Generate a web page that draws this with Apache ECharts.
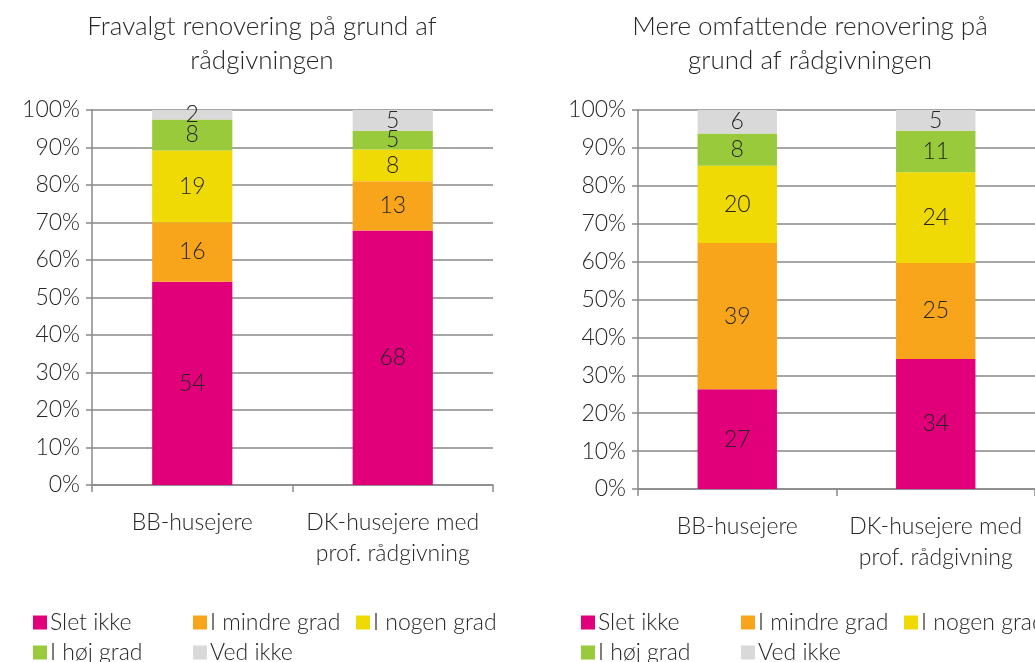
<!DOCTYPE html>
<html><head><meta charset="utf-8">
<script src="https://cdn.jsdelivr.net/npm/echarts@6/dist/echarts.min.js"></script>
<style>html,body{margin:0;padding:0;background:#fff}#c{width:1035px;height:662px}</style>
</head><body><div id="c"></div>
<script>
const categories = ['BB-husejere', 'DK-husejere med\nprof. rådgivning'];
const seriesNames = ['Slet ikke', 'I mindre grad', 'I nogen grad', 'I høj grad', 'Ved ikke'];
const titleLeft = 'Fravalgt renovering på grund af\nrådgivningen';
const titleRight = 'Mere omfattende renovering på\ngrund af rådgivningen';
// bar shares (%), per series: [BB, DK]
const leftSletIkke = [54.2, 67.9];
const leftMindre = [15.9, 13.1];
const leftNogen = [19.1, 8.5];
const leftHoej = [8.3, 5.0];
const leftVedIkke = [2.5, 5.5];
const rightSletIkke = [26.3, 34.3];
const rightMindre = [38.6, 25.3];
const rightNogen = [20.4, 24.0];
const rightHoej = [8.5, 10.9];
const rightVedIkke = [6.2, 5.5];
// printed data labels, per series: [BB, DK]
const leftLabels = [[54, 68], [16, 13], [19, 8], [8, 5], [2, 5]];
const rightLabels = [[27, 34], [39, 25], [20, 24], [8, 11], [6, 5]];
const yTicks = [0, 10, 20, 30, 40, 50, 60, 70, 80, 90, 100];

const colors = ['#E2007A', '#F8A51B', '#F0DA05', '#99CA3B', '#D9D9D9'];
const FONT = 'Lato';
const FW = 300;
const FS = 23;
const TXT = '#262626';

const leftData = [leftSletIkke, leftMindre, leftNogen, leftHoej, leftVedIkke];
const rightData = [rightSletIkke, rightMindre, rightNogen, rightHoej, rightVedIkke];

function makeSeries(d, labels, idx) {
  return d.map((arr, k) => ({
    name: seriesNames[k], type: 'bar', stack: 's' + idx,
    xAxisIndex: idx, yAxisIndex: idx, barWidth: '40%',
    itemStyle: { color: colors[k] },
    label: { show: true, position: 'inside', color: TXT, fontFamily: FONT, fontWeight: FW, fontSize: FS,
      formatter: p => String(labels[k][p.dataIndex]) },
    data: arr
  }));
}

const axisLineStyle = { color: '#898989', width: 1.5 };
function xAxis(idx) {
  return { type: 'category', gridIndex: idx, data: categories,
    axisLine: { lineStyle: axisLineStyle }, axisTick: { show: true, length: 7, lineStyle: axisLineStyle },
    axisLabel: { interval: 0, hideOverlap: false, color: TXT, fontFamily: FONT, fontWeight: FW, fontSize: FS, lineHeight: 31, margin: 22 } };
}
function yAxis(idx) {
  return { type: 'value', gridIndex: idx, min: 0, max: 100, interval: 10,
    axisLine: { show: true, lineStyle: axisLineStyle },
    axisTick: { show: true, length: 6, lineStyle: axisLineStyle },
    splitLine: { lineStyle: axisLineStyle },
    axisLabel: { color: TXT, fontFamily: FONT, fontWeight: FW, fontSize: FS, margin: 12,
      formatter: v => yTicks.includes(v) ? v + '%' : '' } };
}

const legendPos = [[30, 606], [190, 606], [353, 606], [30, 636], [190, 636]];
const legends = [];
[0, 548].forEach(off => {
  seriesNames.forEach((n, k) => {
    legends.push({ data: [n], left: legendPos[k][0] + off - 2, top: legendPos[k][1],
      itemWidth: 14, itemHeight: 14, itemGap: 4, icon: 'rect', selectedMode: false,
      textStyle: { color: TXT, fontFamily: FONT, fontWeight: FW, fontSize: FS, padding: [0, 0, 0, -2] } });
  });
});

const chart = echarts.init(document.getElementById('c'), null, { renderer: 'canvas' });
chart.setOption({
  animation: false,
  color: colors,
  title: [
    { text: titleLeft, left: 257, top: 5, textAlign: 'center',
      textStyle: { color: TXT, fontFamily: FONT, fontSize: 26, fontWeight: FW, lineHeight: 34 } },
    { text: titleRight, left: 805, top: 5, textAlign: 'center',
      textStyle: { color: TXT, fontFamily: FONT, fontSize: 26, fontWeight: FW, lineHeight: 34 } }
  ],
  legend: legends,
  grid: [
    { left: 92, width: 401, top: 110, height: 375 },
    { left: 638, width: 402, top: 110, height: 379 }
  ],
  xAxis: [xAxis(0), xAxis(1)],
  yAxis: [yAxis(0), yAxis(1)],
  series: [...makeSeries(leftData, leftLabels, 0), ...makeSeries(rightData, rightLabels, 1)]
});
</script></body></html>
